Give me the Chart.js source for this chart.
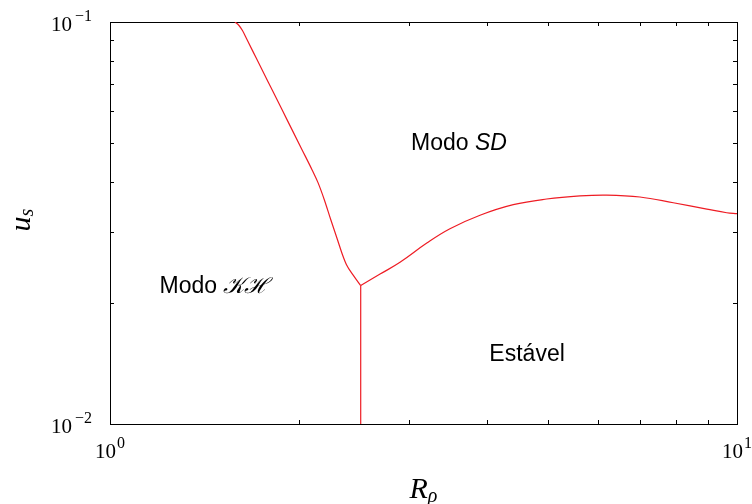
<!DOCTYPE html>
<html>
<head>
<meta charset="utf-8">
<script src="https://cdn.jsdelivr.net/npm/chart.js@4/dist/chart.umd.min.js"></script>
<style>
  html, body { margin: 0; padding: 0; background: #fff; }
  canvas { display: block; }
</style>
</head>
<body>
<canvas id="c" width="752" height="504"></canvas>
<script>
// Boundary between the KH mode and the SD mode (upper left branch)
const khSdR = [1.5824, 1.6058, 1.6265, 1.6537, 1.7155, 1.8127, 1.9155, 2.0242, 2.0998, 2.1466, 2.1968, 2.2498, 2.3058, 2.3485, 2.3833, 2.4409, 2.5110];
const khSdU = [0.1000, 0.09801, 0.09524, 0.09045, 0.08064, 0.06790, 0.05717, 0.04813, 0.04292, 0.03985, 0.03614, 0.03222, 0.02873, 0.02636, 0.02489, 0.02350, 0.02210];

// Boundary between the SD mode and the stable region (right branch)
const sdStableR = [2.5110, 2.6961, 2.9007, 3.2008, 3.4848, 3.8915, 4.3976, 4.9712, 5.6184, 6.1973, 7.0016, 7.9141, 8.9523, 9.6286, 10.0];
const sdStableU = [0.02210, 0.02360, 0.02525, 0.02819, 0.03060, 0.03306, 0.03512, 0.03628, 0.03693, 0.03710, 0.03670, 0.03551, 0.03425, 0.03354, 0.03335];

// Boundary between the KH mode and the stable region (vertical segment)
const khStableR = [2.5110, 2.5110];
const khStableU = [0.0100, 0.02210];

// Axis tick labels (powers of ten) and minor tick positions
const xTickValues = [1, 10];
const xTickExponents = ['0', '1'];
const yTickValues = [0.01, 0.1];
const yTickExponents = ['\u22122', '\u22121'];
const xMinorTicks = [2, 3, 4, 5, 6, 7, 8, 9];
const yMinorTicks = [0.02, 0.03, 0.04, 0.05, 0.06, 0.07, 0.08, 0.09];

// Region names and their anchor points in data coordinates
const regionPlain = ['Modo ', 'Modo ', 'Estável'];
const regionMath = ['SD', '\u{1D4A6}\u210B', ''];
const regionR = [3.602, 1.457, 4.626];
const regionU = [0.0504, 0.02213, 0.01503];

const toPoints = (xs, ys) => xs.map((v, i) => ({ x: v, y: ys[i] }));

const RED = 'rgb(238, 28, 36)';
const SERIF = '"Liberation Serif", "DejaVu Serif", serif';
const SANS = '"Liberation Sans", Arial, sans-serif';

const decor = {
  id: 'decor',
  afterDraw(chart) {
    const { ctx, chartArea: a, scales: { x, y } } = chart;
    ctx.save();

    // inward minor tick marks on all four sides
    ctx.strokeStyle = '#000';
    ctx.lineWidth = 1;
    ctx.beginPath();
    xMinorTicks.forEach(v => {
      const px = Math.round(x.getPixelForValue(v)) + 0.5;
      ctx.moveTo(px, a.bottom); ctx.lineTo(px, a.bottom - 4);
      ctx.moveTo(px, a.top); ctx.lineTo(px, a.top + 4);
    });
    yMinorTicks.forEach(v => {
      const py = Math.round(y.getPixelForValue(v)) + 0.5;
      ctx.moveTo(a.left, py); ctx.lineTo(a.left + 4, py);
      ctx.moveTo(a.right, py); ctx.lineTo(a.right - 4, py);
    });
    ctx.stroke();

    // tick labels: 10 with a raised exponent
    ctx.fillStyle = '#000';
    ctx.textAlign = 'left';
    ctx.textBaseline = 'alphabetic';
    const baseFont = '21px ' + SERIF;
    const expFont = '16px ' + SERIF;
    xTickValues.forEach((v, i) => {
      const px = x.getPixelForValue(v);
      ctx.font = baseFont; const bw = ctx.measureText('10').width;
      ctx.font = expFont; const ew = ctx.measureText(xTickExponents[i]).width;
      const sx = px - (bw + ew + 1) / 2;
      ctx.font = baseFont; ctx.fillText('10', sx, a.bottom + 34);
      ctx.font = expFont; ctx.fillText(xTickExponents[i], sx + bw + 1, a.bottom + 24);
    });
    yTickValues.forEach((v, i) => {
      const py = y.getPixelForValue(v);
      ctx.font = expFont; const ew = ctx.measureText(yTickExponents[i]).width;
      ctx.font = baseFont; const bw = ctx.measureText('10').width;
      const right = a.left - 18;
      ctx.font = baseFont; ctx.fillText('10', right - ew - bw - 3, py + 9);
      ctx.font = expFont; ctx.fillText(yTickExponents[i], right - ew, py - 1);
    });

    // axis titles
    const titleFont = 'italic 30px ' + SERIF;
    const subFont = 'italic 20px ' + SERIF;
    ctx.font = titleFont; const rw = ctx.measureText('R').width;
    ctx.font = subFont; const rhoW = ctx.measureText('\u03C1').width;
    const cx = (a.left + a.right) / 2;
    const rx = cx - (rw + rhoW) / 2;
    ctx.font = titleFont; ctx.fillText('R', rx, 498);
    ctx.font = subFont; ctx.fillText('\u03C1', rx + rw, 502);

    ctx.save();
    ctx.translate(30, (a.top + a.bottom) / 2 - 3);
    ctx.rotate(-Math.PI / 2);
    ctx.font = titleFont; const uw = ctx.measureText('u').width;
    ctx.font = subFont; const sw = ctx.measureText('s').width;
    const ux = -(uw + sw) / 2;
    ctx.font = titleFont; ctx.fillText('u', ux, 0);
    ctx.font = subFont; ctx.fillText('s', ux + uw, 3);
    ctx.restore();

    // region names
    const plainFont = '23px ' + SANS;
    const mathFont = 'italic 23px ' + SANS;
    regionPlain.forEach((txt, i) => {
      const px = x.getPixelForValue(regionR[i]);
      const py = y.getPixelForValue(regionU[i]);
      ctx.font = plainFont; const w1 = ctx.measureText(txt).width;
      ctx.font = mathFont; const w2 = ctx.measureText(regionMath[i]).width;
      const sx = px - (w1 + w2) / 2;
      ctx.font = plainFont; ctx.fillText(txt, sx, py + 8);
      ctx.font = mathFont; ctx.fillText(regionMath[i], sx + w1, py + 8);
    });

    ctx.restore();
  }
};

const lineStyle = {
  showLine: true,
  borderColor: RED,
  borderWidth: 1.2,
  pointRadius: 0,
  pointHoverRadius: 0,
  fill: false
};

const axisBase = (min, max) => ({
  type: 'logarithmic',
  min: min,
  max: max,
  ticks: { display: false, autoSkip: false },
  grid: { display: false, drawTicks: false },
  border: { display: true, color: '#000', width: 1 }
});

new Chart(document.getElementById('c'), {
  type: 'scatter',
  data: {
    datasets: [
      Object.assign({ data: toPoints(khSdR, khSdU), cubicInterpolationMode: 'monotone' }, lineStyle),
      Object.assign({ data: toPoints(sdStableR, sdStableU), tension: 0.4 }, lineStyle),
      Object.assign({ data: toPoints(khStableR, khStableU), tension: 0 }, lineStyle)
    ]
  },
  options: {
    responsive: false,
    animation: false,
    events: [],
    layout: { padding: 0 },
    plugins: { legend: { display: false }, tooltip: { enabled: false } },
    scales: {
      x: Object.assign(axisBase(1, 10), { position: 'bottom', afterFit: s => { s.height = 80; } }),
      x2: Object.assign(axisBase(1, 10), { position: 'top', afterFit: s => { s.height = 22; } }),
      y: Object.assign(axisBase(0.01, 0.1), { position: 'left', afterFit: s => { s.width = 110; } }),
      y2: Object.assign(axisBase(0.01, 0.1), { position: 'right', afterFit: s => { s.width = 15; } })
    }
  },
  plugins: [decor]
});
</script>
</body>
</html>
